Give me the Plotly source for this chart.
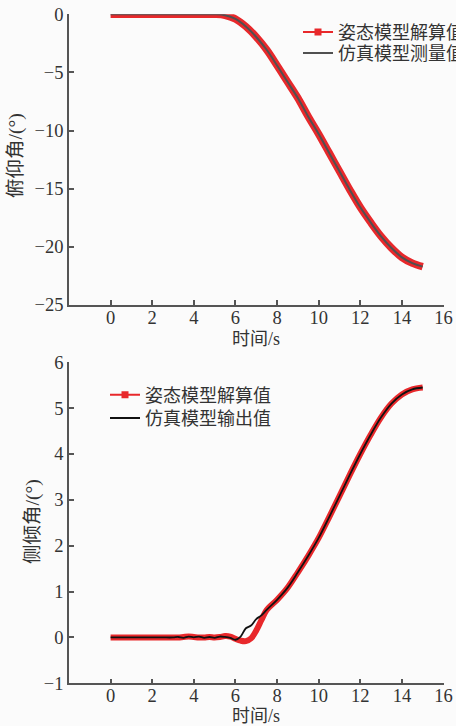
import plotly.graph_objects as go

# ---- pitch angle (upper panel) ----
pitch_t = [0, 0.5, 1, 1.5, 2, 2.5, 3, 3.5, 4, 4.5, 5, 5.5, 6, 6.5, 7, 7.5,
           8, 8.5, 9, 9.5, 10, 10.5, 11, 11.5, 12, 12.5, 13, 13.5, 14, 14.5, 15]
pitch_solved = [0, 0, 0, 0, 0, 0, 0, 0, 0, 0, 0, -0.08, -0.4, -1.05, -1.95, -3.05,
                -4.4, -5.8, -7.2, -8.8, -10.3, -11.9, -13.5, -15.1, -16.6, -17.9,
                -19.1, -20.1, -20.9, -21.4, -21.7]
pitch_measured = [0, 0, 0, 0, 0, 0, 0, 0, 0, 0, 0, -0.08, -0.4, -1.05, -1.95, -3.05,
                  -4.4, -5.8, -7.2, -8.8, -10.3, -11.9, -13.5, -15.1, -16.6, -17.9,
                  -19.1, -20.1, -20.9, -21.4, -21.7]

# ---- roll angle (lower panel) ----
roll_t = [0, 0.5, 1, 1.5, 2, 2.5, 3,
          3.25, 3.5, 3.75, 4, 4.25, 4.5, 4.75, 5, 5.25, 5.5, 5.75, 6, 6.25, 6.5,
          6.75, 7, 7.25, 7.5,
          8, 8.5, 9, 9.5, 10, 10.5, 11, 11.5, 12, 12.5, 13, 13.5, 14, 14.5, 15]
roll_solved = [0, 0, 0, 0, 0, 0, 0,
               0, 0.01, 0.02, 0.01, 0, 0, 0.01, 0, 0.01, 0.03, 0.02, -0.03, -0.07,
               -0.08, -0.02, 0.15, 0.38, 0.6,
               0.82, 1.08, 1.42, 1.78, 2.17, 2.62, 3.08, 3.55, 4.0, 4.42, 4.8, 5.1,
               5.3, 5.41, 5.45]
roll_output = [0, 0, 0, 0, 0, 0, 0,
               0.01, -0.01, 0.02, 0, 0.02, -0.01, 0.01, -0.01, 0.02, 0.01, -0.01,
               -0.05, 0.02, 0.2, 0.26, 0.4, 0.48, 0.6,
               0.82, 1.08, 1.42, 1.78, 2.17, 2.62, 3.08, 3.55, 4.0, 4.42, 4.8, 5.1,
               5.3, 5.41, 5.45]

x_ticks = [0, 2, 4, 6, 8, 10, 12, 14, 16]
pitch_ticks = [0, -5, -10, -15, -20, -25]
roll_ticks = [-1, 0, 1, 2, 3, 4, 5, 6]

RED = "#e8282b"
AXIS = "#555555"
TEXT = "#333333"
SERIF = "Liberation Serif, Noto Sans CJK SC"
W, H = 456, 726

fig = go.Figure()

# upper panel
fig.add_trace(go.Scatter(x=pitch_t, y=pitch_solved, mode="lines",
                         line=dict(color=RED, width=7.5, shape="spline"),
                         showlegend=False, xaxis="x", yaxis="y"))
fig.add_trace(go.Scatter(x=[None], y=[None], mode="lines+markers",
                         name="姿态模型解算值",
                         line=dict(color=RED, width=2),
                         marker=dict(symbol="square", size=7, color=RED),
                         legend="legend", xaxis="x", yaxis="y"))
fig.add_trace(go.Scatter(x=pitch_t, y=pitch_measured, mode="lines",
                         name="仿真模型测量值",
                         line=dict(color="#505050", width=2, shape="spline"),
                         legend="legend2", xaxis="x", yaxis="y"))

# lower panel
fig.add_trace(go.Scatter(x=roll_t, y=roll_solved, mode="lines",
                         line=dict(color=RED, width=6, shape="spline"),
                         showlegend=False, xaxis="x2", yaxis="y2"))
fig.add_trace(go.Scatter(x=[None], y=[None], mode="lines+markers",
                         name="姿态模型解算值",
                         line=dict(color=RED, width=2),
                         marker=dict(symbol="square", size=7, color=RED),
                         legend="legend3", xaxis="x2", yaxis="y2"))
fig.add_trace(go.Scatter(x=roll_t, y=roll_output, mode="lines",
                         name="仿真模型输出值",
                         line=dict(color="#111111", width=1.8, shape="spline"),
                         legend="legend4", xaxis="x2", yaxis="y2"))

axis_common = dict(showline=True, linecolor=AXIS, linewidth=1.5,
                   ticks="inside", ticklen=5, tickwidth=1.5, tickcolor=AXIS,
                   showgrid=False, zeroline=False,
                   tickfont=dict(family=SERIF, size=18.5, color=TEXT))

x_dom = [69 / W, 443.5 / W]
top_dom = [1 - 305 / H, 1 - 14.3 / H]
bot_dom = [1 - 683.3 / H, 1 - 362.3 / H]

fig.update_layout(
    width=W, height=H,
    margin=dict(l=0, r=0, t=0, b=0, autoexpand=False),
    paper_bgcolor="#fbfbfb", plot_bgcolor="#fbfbfb",
    xaxis=dict(domain=x_dom, range=[-2, 16], tickvals=x_ticks, anchor="y",
               ticklabelstandoff=-5, **axis_common),
    yaxis=dict(domain=top_dom, range=[-25, 0], tickvals=pitch_ticks, anchor="x", **axis_common),
    xaxis2=dict(domain=x_dom, range=[-2, 16], tickvals=x_ticks, anchor="y2",
                ticklabelstandoff=-5, **axis_common),
    yaxis2=dict(domain=bot_dom, range=[-1, 6], tickvals=roll_ticks, anchor="x2", **axis_common),
)

legend_common = dict(font=dict(family=SERIF, size=18, color=TEXT),
                     bgcolor="rgba(0,0,0,0)", borderwidth=0,
                     xanchor="left", yanchor="middle", itemwidth=30)
fig.update_layout(
    legend=dict(x=298 / W, y=1 - 32.3 / H, **legend_common),
    legend2=dict(x=298 / W, y=1 - 53.3 / H, **legend_common),
    legend3=dict(x=105 / W, y=1 - 395 / H, **legend_common),
    legend4=dict(x=105 / W, y=1 - 418.3 / H, **legend_common),
)

title_font = dict(family=SERIF, size=18, color=TEXT)
ytitle_font = dict(family=SERIF, size=19.5, color=TEXT)
fig.add_annotation(text="时间/s", x=256 / W, y=1 - 338.5 / H, xref="paper", yref="paper",
                   showarrow=False, xanchor="center", yanchor="middle", font=title_font)
fig.add_annotation(text="时间/s", x=256 / W, y=1 - 716 / H, xref="paper", yref="paper",
                   showarrow=False, xanchor="center", yanchor="middle", font=title_font)
fig.add_annotation(text="俯仰角/(°)", x=16 / W, y=1 - 156 / H, xref="paper", yref="paper",
                   showarrow=False, xanchor="center", yanchor="middle", textangle=-90,
                   font=ytitle_font)
fig.add_annotation(text="侧倾角/(°)", x=33 / W, y=1 - 522 / H, xref="paper", yref="paper",
                   showarrow=False, xanchor="center", yanchor="middle", textangle=-90,
                   font=ytitle_font)

fig.write_html("out.html")
